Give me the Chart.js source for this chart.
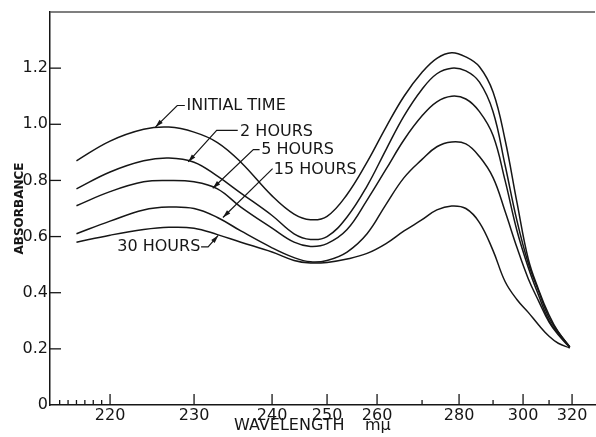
<!DOCTYPE html>
<html>
<head>
<meta charset="utf-8">
<script src="https://cdn.jsdelivr.net/npm/chart.js@4.4.1/dist/chart.umd.min.js"></script>
<style>
  html, body { margin: 0; padding: 0; background: #fff; }
</style>
</head>
<body>
<canvas id="absChart" width="596" height="437"></canvas>
<script>
const wavelengths = [216, 220, 224, 227, 230, 233, 236, 240, 244, 247, 250, 254, 258, 262,
  266, 270, 274, 278, 282, 286, 290, 294, 298, 302, 306, 310, 314, 319];

// absorbance for each time
const initialTime = [0.87, 0.94, 0.982, 0.99, 0.972, 0.935, 0.865, 0.745, 0.68, 0.66, 0.672, 0.75, 0.865, 0.99,
  1.10, 1.185, 1.235, 1.255, 1.24, 1.205, 1.115, 0.945, 0.72, 0.52, 0.41, 0.32, 0.26, 0.207];
const hours2 = [0.77, 0.83, 0.87, 0.88, 0.865, 0.815, 0.755, 0.675, 0.61, 0.59, 0.60, 0.67, 0.78, 0.91,
  1.03, 1.125, 1.18, 1.20, 1.19, 1.15, 1.045, 0.855, 0.655, 0.505, 0.405, 0.31, 0.26, 0.207];
const hours5 = [0.71, 0.76, 0.795, 0.80, 0.795, 0.77, 0.705, 0.63, 0.58, 0.565, 0.575, 0.625, 0.73, 0.84,
  0.945, 1.03, 1.08, 1.10, 1.09, 1.045, 0.96, 0.80, 0.62, 0.49, 0.39, 0.30, 0.255, 0.207];
const hours15 = [0.61, 0.655, 0.695, 0.705, 0.70, 0.668, 0.62, 0.56, 0.525, 0.51, 0.515, 0.545, 0.61, 0.715,
  0.81, 0.875, 0.92, 0.937, 0.93, 0.885, 0.81, 0.69, 0.56, 0.45, 0.37, 0.295, 0.25, 0.205];
const hours30 = [0.58, 0.605, 0.625, 0.633, 0.63, 0.607, 0.58, 0.545, 0.515, 0.506, 0.508, 0.52, 0.54, 0.575,
  0.62, 0.66, 0.695, 0.709, 0.70, 0.65, 0.55, 0.44, 0.375, 0.33, 0.285, 0.245, 0.22, 0.203];

// tick labels
const labelledTicks = [220, 230, 240, 250, 260, 280, 300, 320];
const minorTicks = [214, 215, 216, 217, 218, 219, 270, 290, 310];
const yTicks = [0, 0.2, 0.4, 0.6, 0.8, 1.0, 1.2];

// the printed wavelength axis is not linear: axis units for each wavelength
const scaleWavelengths = [220, 230, 240, 250, 260, 270, 280, 290, 300, 310, 320];
const scaleStops = [0, 84, 162, 217, 267, 312, 349, 383, 413, 439, 462];

function toPos(w) {
  const W = scaleWavelengths, S = scaleStops, n = W.length;
  if (w <= W[0]) return S[0] + (w - W[0]) * (S[1] - S[0]) / (W[1] - W[0]);
  for (let i = 1; i < n; i++) {
    if (w <= W[i]) {
      const f = (w - W[i - 1]) / (W[i] - W[i - 1]);
      return S[i - 1] + f * (S[i] - S[i - 1]);
    }
  }
  return S[n - 1] + (w - W[n - 1]) * (S[n - 1] - S[n - 2]) / (W[n - 1] - W[n - 2]);
}

// curve labels with leader lines (data coords: wavelength, absorbance)
const notes = [
  { text: 'INITIAL TIME', at: [229.1, 1.065], align: 'left', leader: [[228.9, 1.067], [228.0, 1.067], [225.4, 0.99]] },
  { text: '2 HOURS', at: [235.9, 0.972], align: 'left', leader: [[235.6, 0.978], [232.9, 0.978], [229.3, 0.866]] },
  { text: '5 HOURS', at: [238.6, 0.908], align: 'left', leader: [[238.4, 0.91], [237.6, 0.91], [232.4, 0.772]] },
  { text: '15 HOURS', at: [240.3, 0.837], align: 'left', leader: [[240.1, 0.842], [233.7, 0.668]] },
  { text: '30 HOURS', at: [230.8, 0.563], align: 'right', leader: [[230.9, 0.563], [231.8, 0.563], [233.1, 0.604]] }
];

const ink = '#161616';
const series = [initialTime, hours2, hours5, hours15, hours30];
const names = ['Initial time', '2 hours', '5 hours', '15 hours', '30 hours'];

const datasets = series.map((vals, i) => ({
  label: names[i],
  data: wavelengths.map((w, j) => ({ x: toPos(w), y: vals[j] })),
  borderColor: ink,
  borderWidth: 1.5,
  pointRadius: 0,
  fill: false,
  tension: 0.4
}));

const extras = {
  id: 'extras',
  afterDatasetsDraw(chart) {
    const { ctx, chartArea, scales: { x, y } } = chart;
    ctx.save();
    ctx.strokeStyle = ink;
    ctx.fillStyle = ink;
    ctx.lineWidth = 1.3;

    // top frame line
    ctx.strokeStyle = '#555';
    ctx.beginPath();
    ctx.moveTo(chartArea.left, chartArea.top);
    ctx.lineTo(chartArea.right, chartArea.top);
    ctx.stroke();
    ctx.strokeStyle = ink;

    // tick marks point into the plot
    x.ticks.forEach(t => {
      const px = x.getPixelForValue(t.value);
      const len = t.lab ? 11 : 5;
      ctx.beginPath();
      ctx.moveTo(px, chartArea.bottom);
      ctx.lineTo(px, chartArea.bottom - len);
      ctx.stroke();
    });
    y.ticks.forEach(t => {
      if (t.value <= 0 || t.value > 1.3) return;
      const py = y.getPixelForValue(t.value);
      ctx.beginPath();
      ctx.moveTo(chartArea.left, py);
      ctx.lineTo(chartArea.left + 11, py);
      ctx.stroke();
    });

    // labels, leaders and arrow heads
    ctx.font = '16px "DejaVu Sans"';
    ctx.textBaseline = 'middle';
    ctx.lineWidth = 1.2;
    notes.forEach(n => {
      ctx.textAlign = n.align;
      ctx.fillText(n.text, x.getPixelForValue(toPos(n.at[0])), y.getPixelForValue(n.at[1]));
      const pts = n.leader.map(p => [x.getPixelForValue(toPos(p[0])), y.getPixelForValue(p[1])]);
      ctx.beginPath();
      pts.forEach((p, i) => (i ? ctx.lineTo(p[0], p[1]) : ctx.moveTo(p[0], p[1])));
      ctx.stroke();
      const tip = pts[pts.length - 1], prev = pts[pts.length - 2];
      const a = Math.atan2(tip[1] - prev[1], tip[0] - prev[0]);
      ctx.beginPath();
      ctx.moveTo(tip[0], tip[1]);
      ctx.lineTo(tip[0] - 8 * Math.cos(a) + 2.3 * Math.sin(a), tip[1] - 8 * Math.sin(a) - 2.3 * Math.cos(a));
      ctx.lineTo(tip[0] - 8 * Math.cos(a) - 2.3 * Math.sin(a), tip[1] - 8 * Math.sin(a) + 2.3 * Math.cos(a));
      ctx.closePath();
      ctx.fill();
    });
    ctx.restore();
  }
};

const ctx = document.getElementById('absChart');
new Chart(ctx, {
  type: 'line',
  data: { datasets: datasets },
  options: {
    responsive: false,
    animation: false,
    layout: { padding: { left: 0, right: 1, top: 12, bottom: 0 } },
    plugins: { legend: { display: false }, tooltip: { enabled: false } },
    scales: {
      x: {
        type: 'linear',
        min: toPos(212.85),
        max: toPos(212.85) + 545,
        afterBuildTicks: (scale) => {
          scale.ticks = minorTicks.concat(labelledTicks).sort((a, b) => a - b)
            .map(w => ({ value: toPos(w), wl: w, lab: labelledTicks.includes(w) }));
        },
        afterFit: (scale) => { scale.height = 32; },
        grid: { display: false, drawTicks: false },
        border: { display: true, color: ink, width: 1.5 },
        ticks: {
          autoSkip: false,
          maxRotation: 0,
          padding: 3,
          color: ink,
          font: { family: 'DejaVu Sans', size: 16, lineHeight: 1 },
          callback: (v, i, ticks) => (ticks[i].lab ? String(ticks[i].wl) : '')
        },
        title: {
          display: true,
          text: 'WAVELENGTH    mμ    ',
          color: ink,
          font: { family: 'DejaVu Sans', size: 16, lineHeight: 1 },
          padding: { top: 0, bottom: 3 }
        }
      },
      y: {
        min: 0,
        max: 1.4,
        afterBuildTicks: (scale) => {
          scale.ticks = yTicks.map(v => ({ value: v }));
        },
        afterFit: (scale) => { scale.width = 50; },
        grid: { display: false, drawTicks: false },
        border: { display: true, color: ink, width: 1.5 },
        ticks: {
          padding: 2,
          color: ink,
          font: { family: 'DejaVu Sans', size: 16 },
          callback: (v) => (v === 0 ? '0' : v.toFixed(1))
        },
        title: {
          display: true,
          text: 'ABSORBANCE',
          color: ink,
          font: { family: 'DejaVu Sans', size: 12, weight: 'bold' },
          padding: { top: 13, bottom: 0 }
        }
      }
    }
  },
  plugins: [extras]
});
</script>
</body>
</html>
